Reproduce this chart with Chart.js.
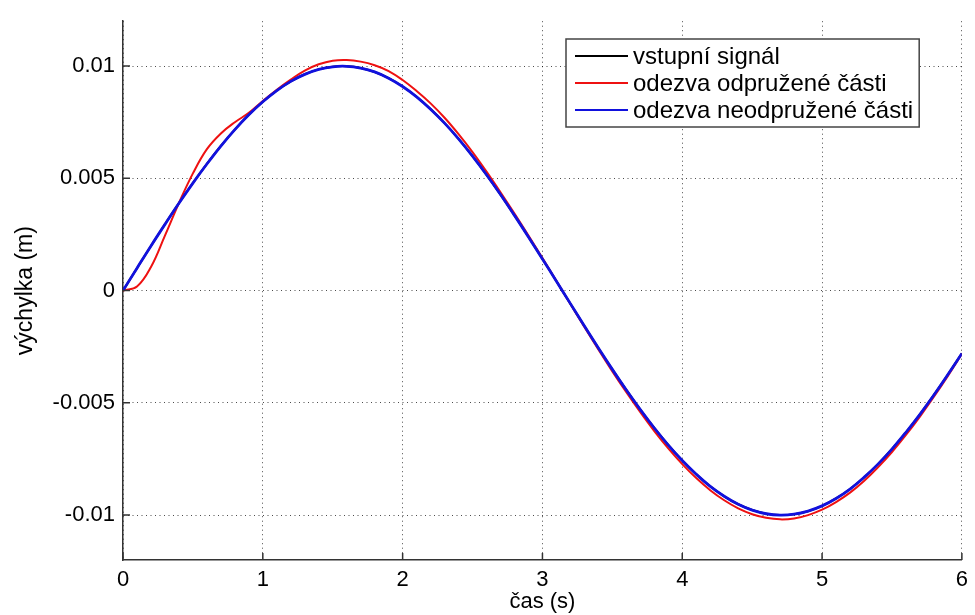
<!DOCTYPE html>
<html>
<head>
<meta charset="utf-8">
<script src="https://cdn.jsdelivr.net/npm/chart.js@4.4.1/dist/chart.umd.min.js"></script>
<style>
  html, body { margin: 0; padding: 0; background: #fff; }
</style>
</head>
<body>
<canvas id="responseChart" width="975" height="615"></canvas>
<script>
// time axis (s)
const times = [0, 0.1, 0.2, 0.3, 0.4, 0.5, 0.6, 0.7, 0.8, 0.9,
  1.0, 1.1, 1.2, 1.3, 1.4, 1.5, 1.6, 1.7, 1.8, 1.9,
  2.0, 2.1, 2.2, 2.3, 2.4, 2.5, 2.6, 2.7, 2.8, 2.9,
  3.0, 3.1, 3.2, 3.3, 3.4, 3.5, 3.6, 3.7, 3.8, 3.9,
  4.0, 4.1, 4.2, 4.3, 4.4, 4.5, 4.6, 4.7, 4.8, 4.9,
  5.0, 5.1, 5.2, 5.3, 5.4, 5.5, 5.6, 5.7, 5.8, 5.9, 6.0];

// vstupni signal (m)
const inputSignal = [0, 0.000998, 0.001987, 0.002955, 0.003894, 0.004794, 0.005646, 0.006442, 0.007174, 0.007833,
  0.008415, 0.008912, 0.009320, 0.009636, 0.009854, 0.009975, 0.009996, 0.009917, 0.009738, 0.009463,
  0.009093, 0.008632, 0.008085, 0.007457, 0.006755, 0.005985, 0.005155, 0.004274, 0.003350, 0.002392,
  0.001411, 0.000416, -0.000584, -0.001577, -0.002555, -0.003508, -0.004425, -0.005298, -0.006119, -0.006878,
  -0.007568, -0.008183, -0.008716, -0.009162, -0.009516, -0.009775, -0.009937, -0.009999, -0.009962, -0.009825,
  -0.009589, -0.009258, -0.008835, -0.008323, -0.007728, -0.007055, -0.006313, -0.005507, -0.004646, -0.003739, -0.002794];

// odezva odpruzene casti
const sprungResponse = [0, 0.00018, 0.00105, 0.00245, 0.00390, 0.00522, 0.00630, 0.00700, 0.00750, 0.00792,
  0.00845, 0.00895, 0.00940, 0.00980, 0.01008, 0.01024, 0.01027, 0.01020, 0.01004, 0.00978,
  0.00938, 0.00889, 0.00834, 0.00770, 0.00697, 0.00617, 0.00530, 0.00438, 0.00343, 0.00245,
  0.00145, 0.00043, -0.00060, -0.00162, -0.00262, -0.00360, -0.00453, -0.00542, -0.00626, -0.00703,
  -0.00773, -0.00835, -0.00889, -0.00934, -0.00970, -0.00996, -0.01012, -0.01019, -0.01015, -0.01000,
  -0.00976, -0.00942, -0.00900, -0.00848, -0.00787, -0.00719, -0.00643, -0.00561, -0.00473, -0.00380, -0.00282];

// odezva neodpruzene casti (almost same as input)
const unsprungResponse = [0, 0.00100, 0.00199, 0.00295, 0.00389, 0.00479, 0.00564, 0.00644, 0.00717, 0.00783,
  0.00841, 0.00891, 0.00932, 0.00963, 0.00985, 0.00997, 0.00999, 0.00991, 0.00974, 0.00946,
  0.00909, 0.00863, 0.00808, 0.00746, 0.00676, 0.00599, 0.00516, 0.00428, 0.00335, 0.00239,
  0.00141, 0.00042, -0.00058, -0.00158, -0.00256, -0.00351, -0.00443, -0.00530, -0.00612, -0.00688,
  -0.00757, -0.00818, -0.00872, -0.00916, -0.00952, -0.00978, -0.00994, -0.01000, -0.00996, -0.00982,
  -0.00959, -0.00926, -0.00884, -0.00832, -0.00773, -0.00706, -0.00631, -0.00551, -0.00465, -0.00374, -0.00280];

const seriesLabels = ['vstupní signál', 'odezva odpružené části', 'odezva neodpružené části'];
const xTickValues = [0, 1, 2, 3, 4, 5, 6];
const yTickValues = [-0.01, -0.005, 0, 0.005, 0.01];
const yTickLabels = ['-0.01', '-0.005', '0', '0.005', '0.01'];

const FONT = 'Liberation Sans, Arial, sans-serif';

function toPoints(values) {
    return times.map(function (t, i) { return { x: t, y: values[i] }; });
}

// matlab style ticks pointing into the plot
const innerTicks = {
    id: 'innerTicks',
    afterDatasetsDraw(chart) {
        const ctx = chart.ctx;
        const area = chart.chartArea;
        const xs = chart.scales.x, ys = chart.scales.y;
        ctx.save();
        ctx.strokeStyle = '#333';
        ctx.lineWidth = 1.5;
        ctx.beginPath();
        xTickValues.forEach(function (v) {
            const px = xs.getPixelForValue(v);
            ctx.moveTo(px, area.bottom);
            ctx.lineTo(px, area.bottom - 7);
        });
        yTickValues.forEach(function (v) {
            const py = ys.getPixelForValue(v);
            ctx.moveTo(area.left, py);
            ctx.lineTo(area.left + 7, py);
        });
        ctx.stroke();
        ctx.restore();
    }
};

// legend box in the top right corner
const boxLegend = {
    id: 'boxLegend',
    afterDraw(chart) {
        const ctx = chart.ctx;
        const sets = chart.data.datasets;
        const left = 566, top = 39, rowH = 27;
        ctx.save();
        ctx.font = '24px ' + FONT;
        let maxW = 0;
        sets.forEach(function (ds) { maxW = Math.max(maxW, ctx.measureText(ds.label).width); });
        const textX = left + 67;
        const w = textX - left + maxW + 6;
        const h = 88;
        ctx.fillStyle = '#fff';
        ctx.fillRect(left, top, w, h);
        ctx.strokeStyle = '#444';
        ctx.lineWidth = 1.5;
        ctx.strokeRect(left, top, w, h);
        sets.forEach(function (ds, i) {
            const y = top + 17 + i * rowH;
            ctx.strokeStyle = ds.borderColor;
            ctx.lineWidth = 2;
            ctx.beginPath();
            ctx.moveTo(left + 9, y);
            ctx.lineTo(left + 62, y);
            ctx.stroke();
            ctx.fillStyle = '#000';
            ctx.textBaseline = 'middle';
            ctx.fillText(ds.label, textX, y + 1);
        });
        ctx.restore();
    }
};

const gridStyle = {
    color: 'rgba(0,0,0,0.7)',
    lineWidth: 1,
    drawTicks: false
};

const chart = new Chart(document.getElementById('responseChart').getContext('2d'), {
    type: 'line',
    data: {
        datasets: [
            { label: seriesLabels[0], data: toPoints(inputSignal), borderColor: '#000000', borderWidth: 2, order: 2 },
            { label: seriesLabels[1], data: toPoints(sprungResponse), borderColor: '#ee1111', borderWidth: 2, order: 1 },
            { label: seriesLabels[2], data: toPoints(unsprungResponse), borderColor: '#1111dd', borderWidth: 2.8, order: 0 }
        ]
    },
    options: {
        responsive: false,
        animation: false,
        layout: { padding: { top: 18, right: 8, left: 0, bottom: 0 } },
        elements: {
            point: { radius: 0 },
            line: { tension: 0.4, fill: false }
        },
        plugins: {
            legend: { display: false },
            tooltip: { enabled: false }
        },
        scales: {
            x: {
                type: 'linear',
                min: 0,
                max: 6,
                afterBuildTicks: function (scale) {
                    scale.ticks = xTickValues.map(function (v) { return { value: v }; });
                },
                afterFit: function (scale) { scale.height = 55; },
                grid: gridStyle,
                border: { display: true, color: '#333', width: 1.5, dash: [1, 3.5] },
                ticks: {
                    padding: 7,
                    color: '#000',
                    font: { family: FONT, size: 22 },
                    maxRotation: 0
                },
                title: {
                    display: true,
                    text: 'čas (s)',
                    color: '#000',
                    font: { family: FONT, size: 22 },
                    padding: { top: 0, bottom: 0 }
                }
            },
            y: {
                type: 'linear',
                min: -0.012,
                max: 0.012,
                afterBuildTicks: function (scale) {
                    scale.ticks = yTickValues.map(function (v) { return { value: v }; });
                },
                afterFit: function (scale) { scale.width = 123; },
                grid: gridStyle,
                border: { display: true, color: '#333', width: 1.5, dash: [1, 3.5] },
                ticks: {
                    padding: 8,
                    color: '#000',
                    font: { family: FONT, size: 22 },
                    callback: function (value, index) { return yTickLabels[index]; }
                },
                title: {
                    display: true,
                    text: 'výchylka (m)',
                    color: '#000',
                    font: { family: FONT, size: 23 },
                    padding: { top: 12, bottom: 0 }
                }
            }
        }
    },
    plugins: [innerTicks, boxLegend]
});
</script>
</body>
</html>
